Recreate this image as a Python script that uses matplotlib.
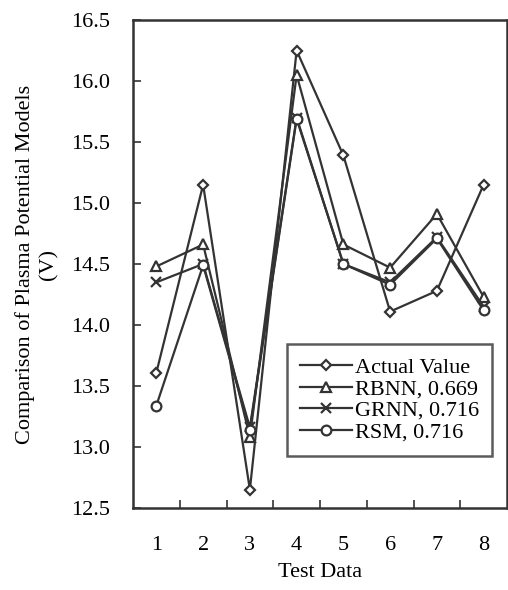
import matplotlib
matplotlib.use("Agg")
import matplotlib.pyplot as plt
from matplotlib.ticker import FixedLocator, NullFormatter

test_data = [1, 2, 3, 4, 5, 6, 7, 8]
actual = [13.61, 15.15, 12.65, 16.25, 15.39, 14.11, 14.28, 15.15]
rbnn = [14.48, 14.66, 13.08, 16.05, 14.66, 14.47, 14.91, 14.23]
grnn = [14.35, 14.50, 13.16, 15.70, 14.50, 14.35, 14.72, 14.15]
rsm = [13.34, 14.49, 13.14, 15.69, 14.50, 14.33, 14.71, 14.12]
labels = ["Actual Value", "RBNN, 0.669", "GRNN, 0.716", "RSM, 0.716"]
yticks = [12.5, 13.0, 13.5, 14.0, 14.5, 15.0, 15.5, 16.0, 16.5]

plt.rcParams['font.family'] = ['Liberation Serif', 'DejaVu Serif']
C = '#333333'
FS = 16

fig = plt.figure(figsize=(5.08, 5.90), dpi=100)
ax = fig.add_axes([133/508, 1-508/590, (507-133)/508, (508-20)/590])

series = [(actual, 'D', 5.5), (rbnn, '^', 7), (grnn, 'x', 7), (rsm, 'o', 7)]
for (vals, m, ms), lab in zip(series, labels):
    ax.plot(test_data, vals, color=C, lw=1.6, marker=m, ms=ms,
            markerfacecolor='white', markeredgecolor=C, markeredgewidth=1.6,
            label=lab)

ax.set_xlim(0.5, 8.5)
ax.set_ylim(12.5, 16.5)
ax.set_xticks(test_data)
ax.set_xticklabels([str(t) for t in test_data])
ax.xaxis.set_minor_locator(FixedLocator([t + 0.5 for t in test_data[:-1]]))
ax.xaxis.set_minor_formatter(NullFormatter())
ax.tick_params(axis='x', which='major', length=0, pad=20, labelsize=FS, colors='black')
ax.tick_params(axis='x', which='minor', direction='in', length=6, width=1.2, color=C)
ax.set_yticks(yticks)
ax.set_yticklabels([f"{v:.1f}" for v in yticks])
ax.tick_params(axis='y', direction='in', length=6, width=1.2, color=C, pad=16.5, labelsize=FS)

for s in ax.spines.values():
    s.set_linewidth(1.8)
    s.set_color(C)

ax.set_xlabel("Test Data", fontsize=FS, labelpad=6)
ax.set_ylabel("Comparison of Plasma Potential Models\n(V)", fontsize=FS, labelpad=9,
              linespacing=1.3)

leg = ax.legend(loc='lower right', bbox_to_anchor=((492-133)/374, (508-456)/488),
                fontsize=FS, frameon=True, fancybox=False, handlelength=2.35,
                handletextpad=0.1, labelspacing=0.05, borderpad=0.6, borderaxespad=0)
leg.get_frame().set_edgecolor(C)
leg.get_frame().set_linewidth(1.8)

fig.savefig("out.png", dpi=100)
